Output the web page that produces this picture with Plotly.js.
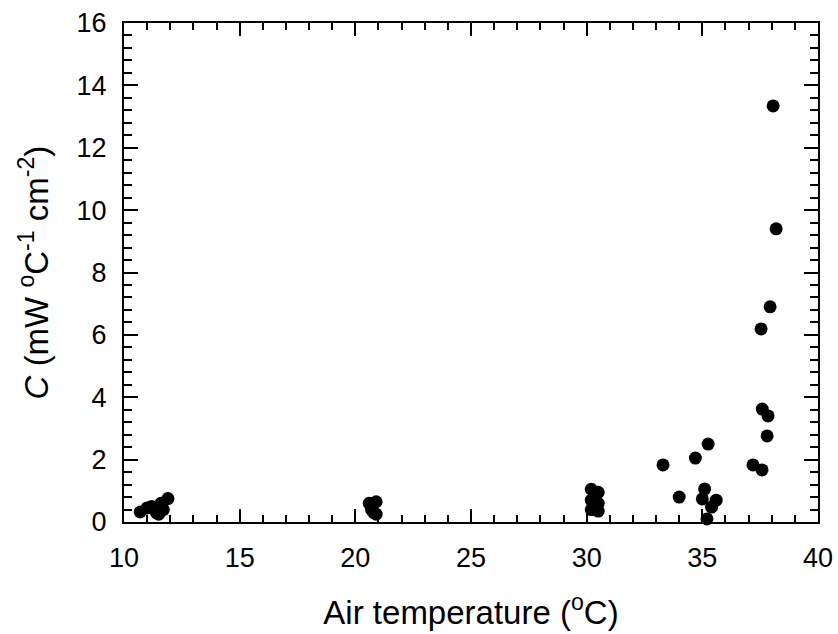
<!DOCTYPE html>
<html>
<head>
<meta charset="utf-8">
<script src="https://cdn.plot.ly/plotly-3.0.1.min.js"></script>
<style>html,body{margin:0;padding:0;background:#fff;}#chart{width:838px;height:634px;}</style>
</head>
<body>
<div id="chart"></div>
<script>
const airTemp = [10.7, 11.0, 11.2, 11.4, 11.5, 11.6, 11.7, 11.9, 11.6,
  20.6, 20.9, 20.7, 20.8, 20.9, 20.7,
  30.2, 30.5, 30.2, 30.5, 30.2, 30.5,
  33.3, 34.0, 34.7, 35.25, 35.1, 35.0, 35.6, 35.4, 35.2,
  37.93, 37.54, 37.59, 37.84, 37.8, 37.19, 37.58, 38.06, 38.19];
const conductance = [0.32, 0.45, 0.5, 0.3, 0.25, 0.6, 0.4, 0.75, 0.5,
  0.6, 0.65, 0.4, 0.3, 0.25, 0.5,
  1.05, 0.95, 0.7, 0.6, 0.4, 0.35,
  1.83, 0.8, 2.05, 2.5, 1.06, 0.74, 0.7, 0.48, 0.1,
  6.9, 6.19, 3.62, 3.4, 2.76, 1.83, 1.67, 13.34, 9.4];
const xTicks = [10, 15, 20, 25, 30, 35, 40];
const yTicks = [0, 2, 4, 6, 8, 10, 12, 14, 16];

const font = {family: 'Liberation Sans, Arial, sans-serif', color: '#000'};
const axisCommon = {
  showgrid: false, zeroline: false, showline: true, linecolor: '#000', linewidth: 2,
  mirror: 'allticks', ticks: 'inside', tickwidth: 2, tickcolor: '#000',
  tickfont: Object.assign({size: 27}, font)
};
Plotly.newPlot('chart', [{
  x: airTemp, y: conductance, type: 'scatter', mode: 'markers',
  marker: {color: '#000', size: 13}, cliponaxis: false
}], {
  width: 838, height: 634,
  margin: {l: 124, r: 20, t: 23, b: 112},
  paper_bgcolor: '#fff', plot_bgcolor: '#fff', showlegend: false,
  xaxis: Object.assign({}, axisCommon, {
    range: [10, 40], tickvals: xTicks, ticktext: xTicks.map(String), ticklen: 13,
    ticklabelstandoff: 11,
    minor: {dtick: 1, ticks: 'inside', ticklen: 7, tickwidth: 2, tickcolor: '#000', showgrid: false},
    title: {text: 'Air temperature (<sup>o</sup>C)', font: Object.assign({size: 33}, font), standoff: 28}
  }),
  yaxis: Object.assign({}, axisCommon, {
    range: [0, 16], tickvals: yTicks, ticktext: yTicks.map(String), ticklen: 14,
    ticklabelstandoff: 10,
    minor: {dtick: 0.4, ticks: 'inside', ticklen: 8, tickwidth: 2, tickcolor: '#000', showgrid: false},
    title: {text: '<i>C</i> (mW <sup>o</sup>C<sup>-1</sup> cm<sup>-2</sup>)', font: Object.assign({size: 33}, font), standoff: 18}
  })
}, {staticPlot: true});
</script>
</body>
</html>
